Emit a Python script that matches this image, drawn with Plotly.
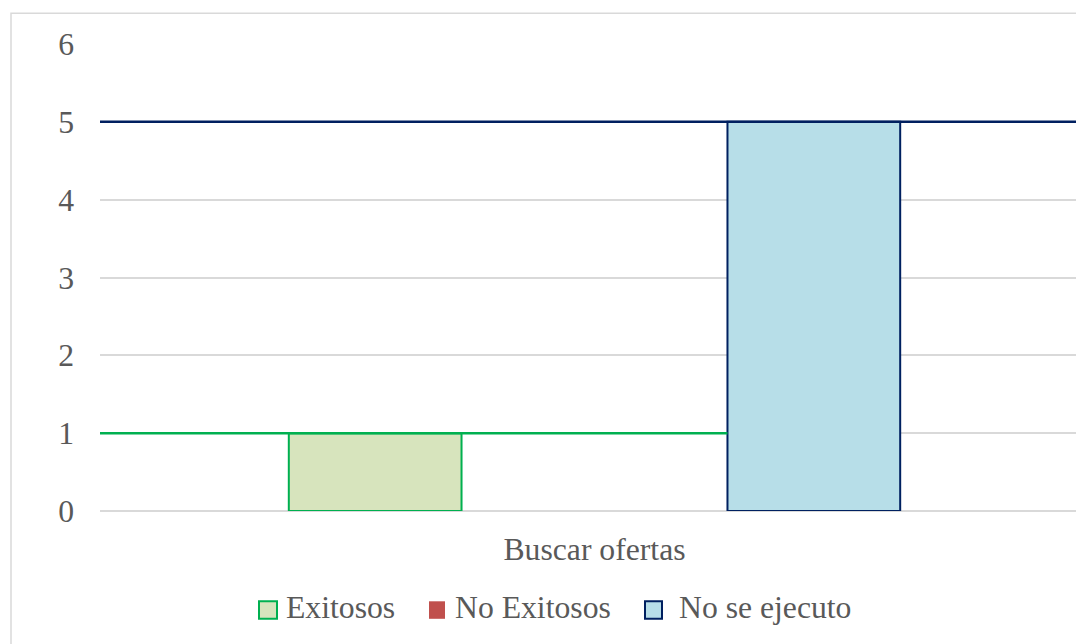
import plotly.graph_objects as go

# ---- data ----
categories = ["Buscar ofertas"]
series_names = ["Exitosos", "No Exitosos", "No se ejecuto"]
exitosos = [1]
no_exitosos = [0]
no_se_ejecuto = [5]
y_tick_values = [0, 1, 2, 3, 4, 5, 6]

# ---- styling / geometry (pixel values are screenshot coordinates) ----
W, H = 1076, 644
PL, PR, PT, PB = 100, 1076, 43.7, 510.7
FONT = "Liberation Serif"
FS = 31.7
TXT = "#595959"
GRID = "#D9D9D9"
GREEN_FILL, GREEN_LINE = "#D7E4BD", "#00B050"
RED_FILL = "#C0504D"
BLUE_FILL, BLUE_LINE = "#B7DEE8", "#002060"

BARGAP = 0.3347
GROUPGAP = 0.2125
CAT_PX = 989.0                      # pixel width of one category slot
X_END = -0.5 + (PR - PL) / CAT_PX   # chart is cropped on the right


def px_x(p):
    return (p - PL) / (PR - PL)


def px_y(p):
    return (PB - p) / (PB - PT)


fig = go.Figure()
fig.add_bar(x=categories, y=exitosos, name=series_names[0],
            marker=dict(color=GREEN_FILL, line=dict(color=GREEN_LINE, width=2)),
            showlegend=False)
fig.add_bar(x=categories, y=no_exitosos, name=series_names[1],
            marker=dict(color=RED_FILL, line=dict(width=0)),
            showlegend=False)
fig.add_bar(x=categories, y=no_se_ejecuto, name=series_names[2],
            marker=dict(color=BLUE_FILL, line=dict(color=BLUE_LINE, width=2)),
            showlegend=False)

# left edge of the third bar, derived from the bar layout
slot = (1 - BARGAP) / 3
blue_left = -0.5 + BARGAP / 2 + 2 * slot + slot * GROUPGAP / 2

shapes = [
    # horizontal series lines at the bar values
    dict(type="line", xref="x", yref="y", x0=-0.5, x1=blue_left,
         y0=exitosos[0], y1=exitosos[0], line=dict(color=GREEN_LINE, width=2.5)),
    dict(type="line", xref="x", yref="y", x0=-0.5, x1=X_END,
         y0=no_se_ejecuto[0], y1=no_se_ejecuto[0], line=dict(color=BLUE_LINE, width=2.5)),
    # chart-area border (cropped on the right and bottom)
    dict(type="rect", xref="paper", yref="paper", x0=px_x(11), x1=px_x(1110),
         y0=px_y(720), y1=px_y(13), line=dict(color=GRID, width=1.5),
         fillcolor="rgba(0,0,0,0)", layer="below"),
]

# custom legend
legend_items = [
    (series_names[0], GREEN_FILL, GREEN_LINE, 259, 277, 285),
    (series_names[1], RED_FILL, None, 429, 445, 454),
    (series_names[2], BLUE_FILL, BLUE_LINE, 645, 662, 678),
]
annotations = []
for name, fill, line, mx0, mx1, tx in legend_items:
    shapes.append(dict(type="rect", xref="paper", yref="paper",
                       x0=px_x(mx0), x1=px_x(mx1), y0=px_y(618.5), y1=px_y(601),
                       fillcolor=fill,
                       line=dict(color=line if line else fill, width=2 if line else 0)))
    annotations.append(dict(xref="paper", yref="paper", x=px_x(tx - 1), y=px_y(607),
                            xanchor="left", yanchor="middle", showarrow=False,
                            text=name, font=dict(family=FONT, size=FS, color=TXT)))

fig.update_layout(
    width=W, height=H, autosize=False,
    margin=dict(l=PL, r=W - PR, t=PT, b=H - PB, pad=0),
    paper_bgcolor="white", plot_bgcolor="white",
    barmode="group", bargap=BARGAP, bargroupgap=GROUPGAP,
    font=dict(family=FONT, size=FS, color=TXT),
    shapes=shapes, annotations=annotations,
    showlegend=False,
)
fig.update_xaxes(type="category", range=[-0.5, X_END], showgrid=False,
                 showline=False, zeroline=False, ticks="", ticklabelstandoff=16,
                 tickfont=dict(family=FONT, size=FS, color=TXT))
fig.update_yaxes(range=[0, 6], tickvals=y_tick_values, showgrid=True,
                 gridcolor=GRID, gridwidth=1.5, zeroline=True, zerolinecolor=GRID,
                 zerolinewidth=1.5, showline=False, ticks="", ticklabelstandoff=25,
                 tickfont=dict(family=FONT, size=FS, color=TXT))

fig.write_html(
    "out.html",
    config={"displayModeBar": False},
    post_script="document.body.style.margin='0';document.body.style.overflow='hidden';",
)
